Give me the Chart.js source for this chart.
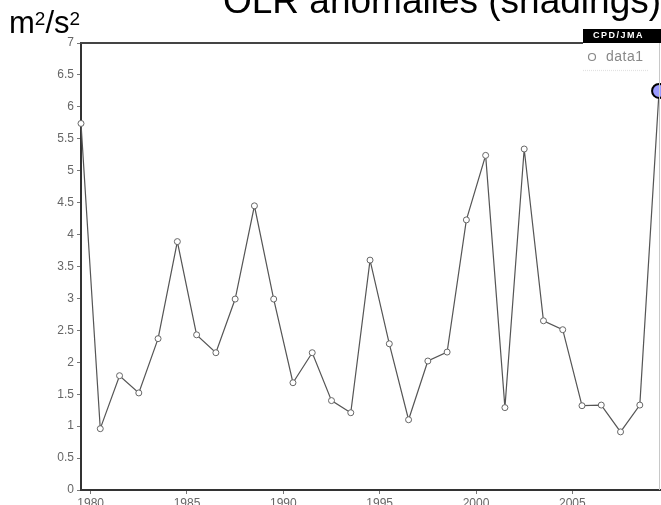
<!DOCTYPE html>
<html>
<head>
<meta charset="utf-8">
<script src="https://cdn.jsdelivr.net/npm/chart.js@4/dist/chart.umd.min.js"></script>
<style>
  html, body { margin: 0; padding: 0; background: #fff; overflow: hidden; }
  #wrap { position: relative; width: 661px; height: 505px; }
</style>
</head>
<body>
<div id="wrap"><canvas id="c" width="661" height="505"></canvas></div>
<script>
// Annual index values, 1979-2009
const years = [1979, 1980, 1981, 1982, 1983, 1984, 1985, 1986, 1987, 1988,
               1989, 1990, 1991, 1992, 1993, 1994, 1995, 1996, 1997, 1998,
               1999, 2000, 2001, 2002, 2003, 2004, 2005, 2006, 2007, 2008, 2009];
const values = [5.74, 0.96, 1.79, 1.52, 2.37, 3.89, 2.43, 2.15, 2.99, 4.45,
                2.99, 1.68, 2.15, 1.40, 1.21, 3.60, 2.29, 1.10, 2.02, 2.16,
                4.23, 5.24, 1.29, 5.34, 2.65, 2.51, 1.32, 1.33, 0.91, 1.33, 6.25];
const yTicks = [0, 0.5, 1, 1.5, 2, 2.5, 3, 3.5, 4, 4.5, 5, 5.5, 6, 6.5, 7];
const xTicks = [1980, 1985, 1990, 1995, 2000, 2005];
const seriesName = 'data1';
const titleText = 'OLR anomalies (shadings)';
const sourceTag = 'CPD/JMA';

const SANS = '"Liberation Sans", Arial, sans-serif';
const lastIdx = values.length - 1;

// Each annual value sits at mid-year on the time axis
const points = years.map((yr, i) => ({ x: yr + 0.5, y: values[i] }));

// Frame, headings, source tag and legend drawn on top of the plot
const decorations = {
  id: 'decorations',
  afterDraw(chart) {
    const { ctx, chartArea: a } = chart;
    ctx.save();

    // top and right frame
    ctx.strokeStyle = '#444';
    ctx.lineWidth = 2;
    ctx.beginPath();
    ctx.moveTo(a.left - 1, a.top);
    ctx.lineTo(583, a.top);
    ctx.stroke();
    ctx.strokeStyle = '#c8c8c8';
    ctx.lineWidth = 1;
    ctx.beginPath();
    ctx.moveTo(659.5, a.top);
    ctx.lineTo(659.5, a.bottom);
    ctx.stroke();

    // heading
    ctx.fillStyle = '#000';
    ctx.textBaseline = 'alphabetic';
    ctx.textAlign = 'left';
    ctx.font = '37px ' + SANS;
    ctx.fillText(titleText, 223, 13);

    // unit label m2/s2 with raised exponents
    let x = 9;
    const parts = [['m', 31, 33], ['2', 19, 25], ['/s', 31, 33], ['2', 19, 25]];
    for (const [t, size, base] of parts) {
      ctx.font = size + 'px ' + SANS;
      ctx.fillText(t, x, base);
      x += ctx.measureText(t).width;
    }

    // source tag
    ctx.fillStyle = '#000';
    ctx.fillRect(583, 29, 78, 14);
    ctx.fillStyle = '#fff';
    ctx.font = 'bold 9px ' + SANS;
    ctx.letterSpacing = '1.5px';
    ctx.textBaseline = 'middle';
    ctx.fillText(sourceTag, 593, 35.5);
    ctx.letterSpacing = '0px';

    // legend
    const ds = chart.data.datasets[0];
    ctx.strokeStyle = '#888';
    ctx.lineWidth = 1.2;
    ctx.beginPath();
    ctx.arc(592, 57, 3.5, 0, Math.PI * 2);
    ctx.stroke();
    ctx.fillStyle = '#888';
    ctx.font = '14px ' + SANS;
    ctx.letterSpacing = '0.5px';
    ctx.fillText(ds.label, 606, 57);
    ctx.letterSpacing = '0px';
    ctx.strokeStyle = '#e2e2e2';
    ctx.setLineDash([1, 1]);
    ctx.beginPath();
    ctx.moveTo(583, 70.5);
    ctx.lineTo(649, 70.5);
    ctx.stroke();
    ctx.setLineDash([]);

    ctx.restore();
  }
};

new Chart(document.getElementById('c'), {
  type: 'line',
  data: {
    datasets: [{
      label: seriesName,
      data: points,
      borderColor: '#555',
      borderWidth: 1.2,
      tension: 0,
      pointRadius: values.map((v, i) => i === lastIdx ? 7 : 3),
      pointBackgroundColor: values.map((v, i) => i === lastIdx ? '#9b9bff' : '#fff'),
      pointBorderColor: values.map((v, i) => i === lastIdx ? '#000' : '#666'),
      pointBorderWidth: values.map((v, i) => i === lastIdx ? 2 : 1),
      clip: false
    }]
  },
  options: {
    responsive: false,
    animation: false,
    devicePixelRatio: 1,
    layout: { autoPadding: false, padding: { left: 0, right: 0, top: 43, bottom: 0 } },
    plugins: {
      legend: { display: false },
      tooltip: { enabled: false },
      title: { display: false }
    },
    scales: {
      x: {
        type: 'linear',
        min: 1979.5,
        max: 2009.6,
        afterBuildTicks: s => { s.ticks = xTicks.map(v => ({ value: v })); },
        afterFit: s => { s.height = 15; s.paddingLeft = 0; s.paddingRight = 0; },
        ticks: {
          autoSkip: false,
          maxRotation: 0,
          padding: 2,
          color: '#666',
          font: { family: SANS, size: 12 },
          callback: v => String(v)
        },
        grid: { drawOnChartArea: false, tickLength: 4, color: '#777' },
        border: { color: '#333', width: 2 }
      },
      y: {
        min: 0,
        max: 7,
        afterBuildTicks: s => { s.ticks = yTicks.map(v => ({ value: v })); },
        afterFit: s => { s.width = 81; s.paddingTop = 0; s.paddingBottom = 0; },
        ticks: {
          padding: 3,
          color: '#666',
          font: { family: SANS, size: 12 },
          callback: v => String(v)
        },
        grid: { drawOnChartArea: false, tickLength: 4, color: '#777' },
        border: { color: '#333', width: 2 }
      }
    }
  },
  plugins: [decorations]
});
</script>
</body>
</html>
